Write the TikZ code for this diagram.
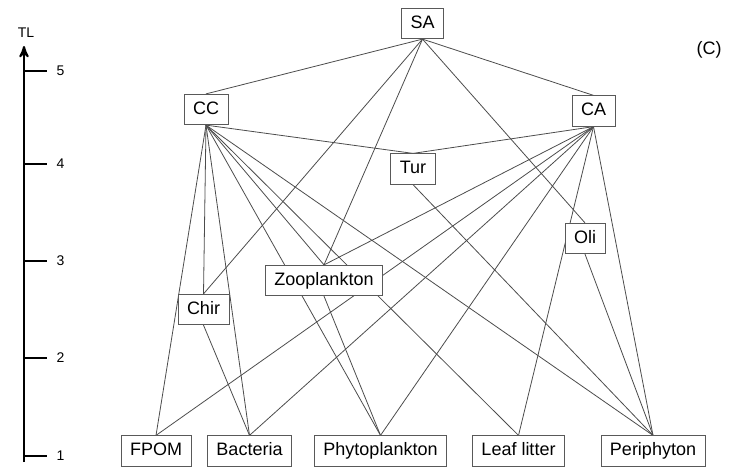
\documentclass[tikz,border=0pt]{standalone}
\usepackage{fontspec}
\setmainfont{Liberation Sans}
\usetikzlibrary{arrows,backgrounds}

\begin{document}
\begin{tikzpicture}[x=0.5pt,y=-0.5pt,>=stealth',
                    taxon/.style={draw=black!65,fill=white,line width=0.45pt,inner xsep=4.5pt,
                                  minimum height=14.5pt,text height=6.6pt,text depth=1.9pt},
                    link/.style={draw=black!70,line width=0.4pt},
                    level/.style={line width=1pt}]
\tikzset{font=\fontsize{9pt}{11}\selectfont}

\useasboundingbox (0,0) rectangle (731,467);

        % top of the web
        \node[taxon]                (SA)    at (422.5,23.5)  {SA};
        \node[taxon]                (CC)    at (206,109.5)   {CC};
        \node[taxon]                (CA)    at (593.5,111)   {CA};

        % intermediate consumers
        \node[taxon]                (Tur)   at (413,169)     {Tur};
        \node[taxon]                (Oli)   at (585,238.5)   {Oli};
        \node[taxon]                (Zoo)   at (324,280.5)   {Zooplankton};
        \node[taxon]                (Chir)  at (203.5,309.5) {Chir};

        % basal resources
        \node[taxon]                (FPOM)  at (156,451)     {FPOM};
        \node[taxon]                (Bac)   at (249.5,451)   {Bacteria};
        \node[taxon]                (Phy)   at (380.5,451)   {Phytoplankton};
        \node[taxon]                (Leaf)  at (518.5,451)   {Leaf litter};
        \node[taxon]                (Peri)  at (653,451)     {Periphyton};

        \node                       (panel) at (709,50)      {(C)};

        % trophic links, kept under the boxes
        \begin{pgfonlayer}{background}
        \path[link]
        (SA.south)   edge (CC.north)
        (SA.south)   edge (CA.north)
        (SA.south)   edge (Chir.north)
        (SA.south)   edge (Zoo.north)
        (SA.south)   edge (Oli.north)
        (CC.south)   edge (Tur.north)
        (CC.south)   edge (FPOM.north)
        (CC.south)   edge (Chir.north)
        (CC.south)   edge (Bac.north)
        (CC.south)   edge (Phy.north)
        (CC.south)   edge (Zoo.north)
        (CC.south)   edge (Leaf.north)
        (CC.south)   edge (Peri.north)
        (CA.south)   edge (Tur.north)
        (CA.south)   edge (Zoo.north)
        (CA.south)   edge (FPOM.north)
        (CA.south)   edge (Bac.north)
        (CA.south)   edge (Phy.north)
        (CA.south)   edge (Leaf.north)
        (CA.south)   edge (Peri.north)
        (Tur.south)  edge (Peri.north)
        (Oli.south)  edge (Peri.north)
        (Zoo.south)  edge (Phy.north)
        (Chir.south) edge (Bac.north)
        ; %end path
        \end{pgfonlayer}

        % trophic level axis
        \begin{scope}[font=\fontsize{7pt}{8}\selectfont]
        \coordinate (base) at (24,462);
        \coordinate (top)  at (24,46);
        \draw[level,->] (base) -- (top);
        \node (TL) at (26,33) {TL};

        \draw[level] (24,456) -- (47,456) node[right=1pt] (t1) {1};
        \draw[level] (24,358) -- (47,358) node[right=1pt] (t2) {2};
        \draw[level] (24,261) -- (47,261) node[right=1pt] (t3) {3};
        \draw[level] (24,164) -- (47,164) node[right=1pt] (t4) {4};
        \draw[level] (24,71)  -- (47,71)  node[right=1pt] (t5) {5};
        \end{scope}

\end{tikzpicture}
\end{document}
